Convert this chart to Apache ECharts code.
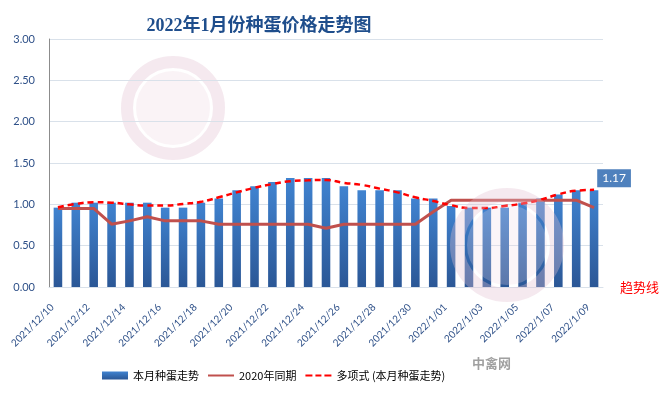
<!DOCTYPE html>
<html>
<head>
<meta charset="utf-8">
<script src="https://cdn.jsdelivr.net/npm/echarts@6/dist/echarts.min.js"></script>
<style>
html,body{margin:0;padding:0;background:#fff;}
#c{width:662px;height:394px;}
</style>
</head>
<body>
<div id="c"></div>
<script>
var categories = ['2021/12/10','2021/12/11','2021/12/12','2021/12/13','2021/12/14','2021/12/15','2021/12/16','2021/12/17','2021/12/18','2021/12/19','2021/12/20','2021/12/21','2021/12/22','2021/12/23','2021/12/24','2021/12/25','2021/12/26','2021/12/27','2021/12/28','2021/12/29','2021/12/30','2021/12/31','2022/1/01','2022/1/02','2022/1/03','2022/1/04','2022/1/05','2022/1/06','2022/1/07','2022/1/08','2022/1/09'];
var thisMonth = [0.96,1.02,1.02,1.02,1.02,1.02,0.96,0.96,1.02,1.07,1.17,1.22,1.27,1.32,1.32,1.32,1.22,1.17,1.17,1.17,1.07,1.07,0.98,0.96,0.96,0.96,1.02,1.07,1.12,1.17,1.17];
var lastYear = [0.95,0.95,0.95,0.76,0.80,0.85,0.80,0.80,0.80,0.76,0.76,0.76,0.76,0.76,0.76,0.71,0.76,0.76,0.76,0.76,0.76,0.91,1.05,1.05,1.05,1.05,1.05,1.05,1.05,1.05,0.96];
var trend = [0.965,1.005,1.025,1.02,1.0,0.985,0.985,1.005,1.03,1.085,1.145,1.2,1.245,1.28,1.29,1.295,1.26,1.235,1.19,1.145,1.085,1.04,0.99,0.955,0.955,0.98,1.01,1.055,1.12,1.165,1.175];
var yTicks = [0, 0.5, 1.0, 1.5, 2.0, 2.5, 3.0];

var chart = echarts.init(document.getElementById('c'));
var lastIdx = thisMonth.length - 1;
var barData = thisMonth.map(function (v, i) {
  if (i === lastIdx) {
    return {
      value: v,
      label: {
        show: true, position: 'top', distance: 5, offset: [20, 2],
        formatter: function (p) { return p.value.toFixed(2); },
        backgroundColor: '#4F81BD', color: '#fff', padding: [3, 5],
        fontSize: 12, fontFamily: 'Lato, sans-serif'
      }
    };
  }
  return v;
});
var barColor = new echarts.graphic.LinearGradient(0, 0, 0, 1, [
  { offset: 0, color: '#4083D0' },
  { offset: 1, color: '#2B5796' }
]);
chart.setOption({
  animation: false,
  backgroundColor: '#fff',
  title: {
    text: '2022年1月份种蛋价格走势图',
    left: 254, top: 12, textAlign: 'center',
    textStyle: { fontFamily: 'Liberation Serif, Noto Sans CJK SC, serif', fontWeight: 'bold', fontSize: 18, color: '#1F4E8C' }
  },
  grid: { left: 49, right: 59, top: 39, bottom: 107 },
  legend: {
    left: 97, top: 365, itemWidth: 26, itemHeight: 8, itemGap: 9,
    textStyle: { fontFamily: 'Noto Sans CJK SC, sans-serif', fontSize: 11, color: '#000' },
    data: [
      { name: '本月种蛋走势', icon: 'rect' },
      { name: '2020年同期', icon: 'path://M0,0 M26,8 M0,3 H26 V5 H0 Z' },
      { name: '多项式 (本月种蛋走势)', icon: 'path://M0,0 M26,8 M0,3 H7 V5 H0 Z M10,3 H16 V5 H10 Z M19,3 H26 V5 H19 Z' }
    ]
  },
  xAxis: {
    type: 'category',
    data: categories,
    axisLine: { show: true, lineStyle: { color: '#D9E1EA' } },
    axisTick: { show: false },
    axisLabel: {
      interval: 1, rotate: 45, fontSize: 10, color: '#2E5088', margin: 13,
      padding: [0, 8, 0, 0],
      fontFamily: 'Lato, sans-serif'
    }
  },
  yAxis: {
    type: 'value', min: 0, max: 3, interval: 0.5,
    axisLine: { show: true, lineStyle: { color: '#8C8C8C' } },
    axisTick: { show: false },
    splitLine: { lineStyle: { color: '#D9E1EA' } },
    axisLabel: {
      fontSize: 11, color: '#2E5088', margin: 14, fontFamily: 'Lato, sans-serif',
      formatter: function (v) { return v.toFixed(2); }
    }
  },
  series: [
    {
      name: '本月种蛋走势', type: 'bar', data: barData, barWidth: '48%',
      itemStyle: { color: barColor }
    },
    {
      name: '2020年同期', type: 'line', data: lastYear, symbol: 'none',
      lineStyle: { color: '#C0504D', width: 3 }, itemStyle: { color: '#C0504D' }, z: 3
    },
    {
      name: '多项式 (本月种蛋走势)', type: 'line', data: trend, symbol: 'none', smooth: true,
      lineStyle: { color: '#FF0000', width: 2.5, type: [6, 4] }, itemStyle: { color: '#FF0000' }, z: 4
    }
  ],
  graphic: [
    { type: 'circle', shape: { cx: 173, cy: 108, r: 46 }, style: { fill: 'none', stroke: '#E3BFD1', lineWidth: 12, opacity: 0.35 }, z: -1, silent: true },
    { type: 'circle', shape: { cx: 173, cy: 108, r: 37 }, style: { fill: '#EFD6E2', opacity: 0.3 }, z: -1, silent: true },
    { type: 'circle', shape: { cx: 507, cy: 245, r: 50 }, style: { fill: 'none', stroke: '#E3BFD1', lineWidth: 14, opacity: 0.35 }, z: 10, silent: true },
    { type: 'circle', shape: { cx: 507, cy: 245, r: 40 }, style: { fill: '#EFD6E2', opacity: 0.25 }, z: 10, silent: true },
    { type: 'text', left: 620, top: 281, style: { text: '趋势线', fill: '#FF0000', fontSize: 13, fontFamily: 'Noto Sans CJK SC, sans-serif' } },
    { type: 'text', left: 472, top: 357, style: { text: '中禽网', fill: '#A0A0A0', fontSize: 13, fontWeight: 'bold', fontFamily: 'Noto Sans CJK SC, sans-serif' } }
  ]
});
</script>
</body>
</html>
